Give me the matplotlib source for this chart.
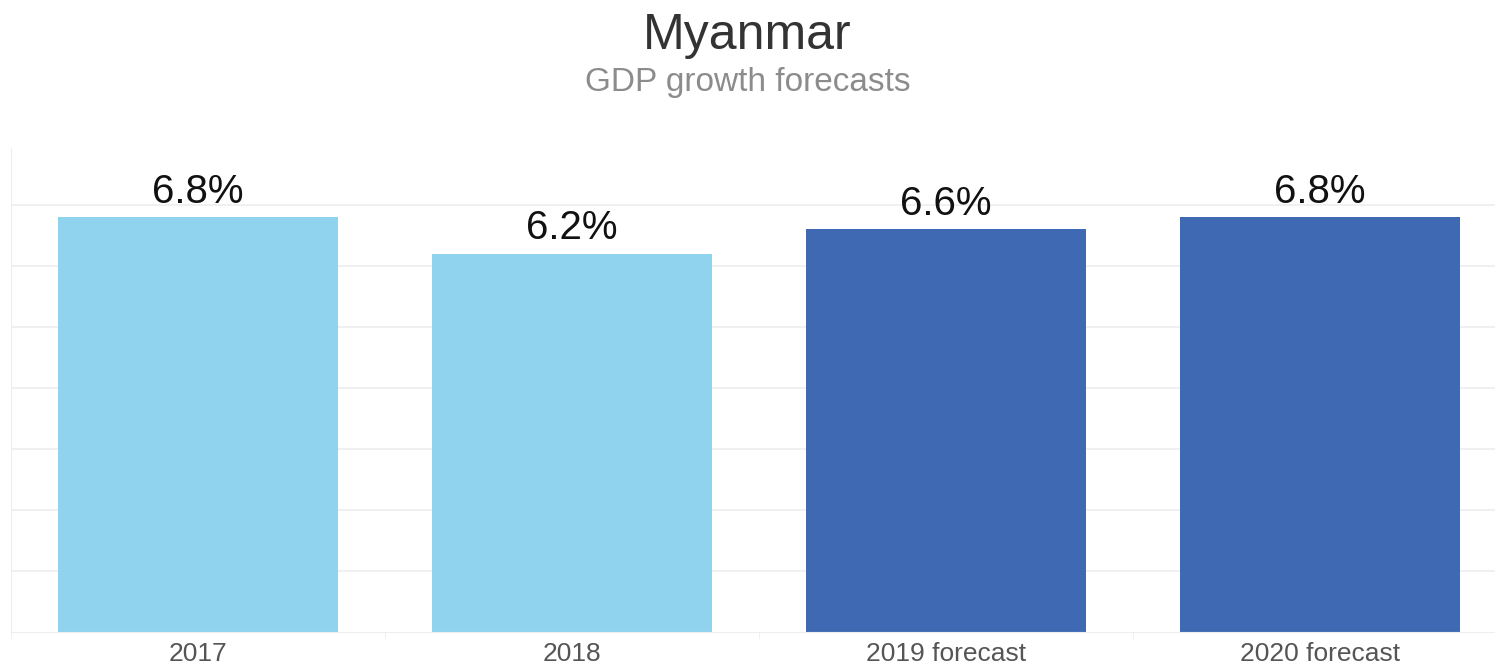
import matplotlib
matplotlib.use("Agg")
import matplotlib.pyplot as plt

# Daten
categories = ["2017", "2018", "2019 forecast", "2020 forecast"]
growth = [6.8, 6.2, 6.6, 6.8]
bar_colors = ["#8fd3ee", "#8fd3ee", "#3f6ab3", "#3f6ab3"]

plt.rcParams['font.family'] = ['Liberation Sans', 'DejaVu Sans']

fig = plt.figure(figsize=(14.95, 6.64), dpi=100)
# Achse reicht rechts leicht über den Bildrand hinaus (wie im Original)
ax = fig.add_axes([11 / 1495, 32 / 664, 1496 / 1495, 484 / 664])

x = range(len(categories))
bars = ax.bar(x, growth, width=0.75, color=bar_colors, zorder=2)

for b, v in zip(bars, growth):
    ax.text(b.get_x() + b.get_width() / 2, v + 0.1, f"{v:.1f}%",
            ha='center', va='bottom', fontsize=29, color='#111111')

ax.set_xlim(-0.5, 3.5)
ax.set_ylim(0, 7.93)
ax.set_yticks(range(1, 8))
ax.yaxis.grid(True, color='#eeeeee', linewidth=1.2, zorder=0)
ax.tick_params(axis='y', length=0, labelleft=False)

ax.set_xticks(list(x))
ax.set_xticklabels(categories, fontsize=19, color='#555555')
ax.tick_params(axis='x', length=0, pad=7)
ax.set_xticks([i + 0.5 for i in range(-1, 4)], minor=True)
ax.tick_params(axis='x', which='minor', length=5, color='#eeeeee')

for side in ['top', 'right']:
    ax.spines[side].set_visible(False)
ax.spines['left'].set_color('#eeeeee')
ax.spines['bottom'].set_color('#eeeeee')

fig.text(0.5, 1 - 36 / 664, "Myanmar", ha='center', va='center',
         fontsize=36, color='#333333')
fig.text(0.5, 1 - 82 / 664, "GDP growth forecasts", ha='center', va='center',
         fontsize=24, color='#8c8c8c')

fig.savefig("out.png", dpi=100)
